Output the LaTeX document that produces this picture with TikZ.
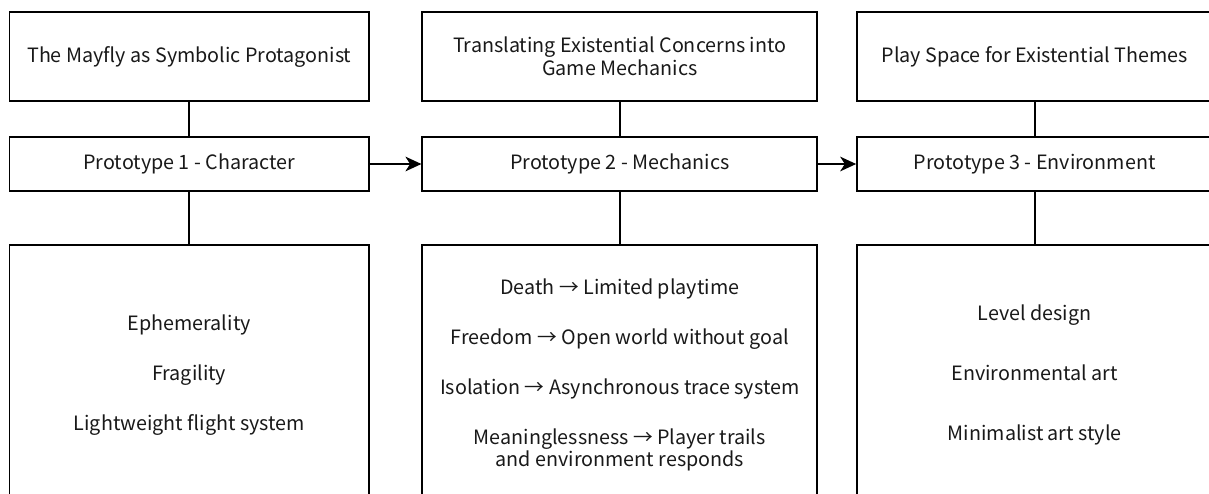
\documentclass[tikz,border=0pt]{standalone}
\usepackage{fontspec}
\setmainfont{Noto Sans CJK SC}
\usetikzlibrary{arrows.meta}
\begin{document}
\begin{tikzpicture}[x=0.75pt,y=-0.75pt,
  box/.style={draw=black,line width=1.3pt,fill=white,align=center,inner sep=0pt,
    font=\fontsize{14.8}{17}\selectfont,text=black!90},
  topbox/.style={box,minimum height=66.75pt},
  midbox/.style={box,minimum height=40.5pt},
  botbox/.style={box,minimum height=195pt},
  link/.style={line width=1.3pt,draw=black},
  flow/.style={line width=1.3pt,draw=black,-{Stealth[length=12pt,width=11pt,inset=3.5pt]}}]
\useasboundingbox (0,0) rectangle (1209,493);
\clip (0,0) rectangle (1209,493);
% column 1
\node[topbox,minimum width=269.6pt] (t1) at (189.25,56.5) {The Mayfly as Symbolic Protagonist};
\node[midbox,minimum width=269.6pt] (m1) at (189.25,164) {Prototype 1 - Character};
\node[botbox,minimum width=269.6pt] (b1) at (189.25,375) {Ephemerality\\[20.5pt]Fragility\\[20.5pt]Lightweight flight system};
% column 2
\node[topbox,minimum width=296.25pt] (t2) at (619.8,56.5) {\raisebox{-1.2pt}{Translating Existential Concerns into}\\\raisebox{-1.2pt}{Game Mechanics}};
\node[midbox,minimum width=296.25pt] (m2) at (619.8,164) {Prototype 2 - Mechanics};
\node[botbox,minimum width=296.25pt] (b2) at (619.8,375) {Death → Limited playtime\\[20.5pt]Freedom → Open world without goal\\[20.5pt]Isolation → Asynchronous trace system\\[20.5pt]Meaninglessness → Player trails\\and environment responds};
% column 3
\node[topbox,minimum width=266.5pt] (t3) at (1034.7,56.5) {Play Space for Existential Themes};
\node[midbox,minimum width=266.5pt] (m3) at (1034.7,164) {Prototype 3 - Environment};
\node[botbox,minimum width=266.5pt] (b3) at (1034.7,375) {Level design\\[28pt]Environmental art\\[28pt]Minimalist art style};
% connectors
\draw[link] (t1) -- (m1);
\draw[link] (m1) -- (b1);
\draw[link] (t2) -- (m2);
\draw[link] (m2) -- (b2);
\draw[link] (t3) -- (m3);
\draw[link] (m3) -- (b3);
\draw[flow] (m1) -- (m2);
\draw[flow] (m2) -- (m3);
\end{tikzpicture}
\end{document}
